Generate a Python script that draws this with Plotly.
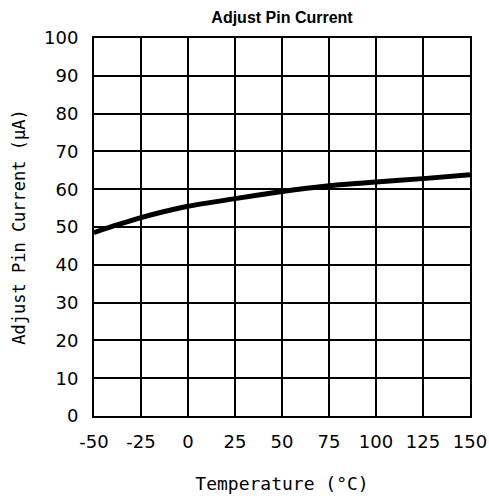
import plotly.graph_objects as go

temperature = [-50, -40, -25, 0, 25, 50, 75, 100, 125, 150]
current = [48.5, 50.2, 52.5, 55.5, 57.5, 59.4, 60.9, 61.9, 62.8, 63.8]
x_ticks = [-50, -25, 0, 25, 50, 75, 100, 125, 150]
y_ticks = [0, 10, 20, 30, 40, 50, 60, 70, 80, 90, 100]

fig = go.Figure()
fig.add_trace(go.Scatter(x=temperature, y=current, mode="lines",
                         line=dict(color="black", width=5, shape="spline", smoothing=0.6),
                         showlegend=False, cliponaxis=False))

fig.update_layout(
    width=489, height=496,
    margin=dict(l=94, r=19, t=38, b=80, autoexpand=False),
    paper_bgcolor="white", plot_bgcolor="white",
    title=dict(text="<b>Adjust Pin Current</b>", x=0.5, xref="paper", y=0.964, yref="container",
               yanchor="middle",
               font=dict(family="Liberation Sans, Arial", size=16, color="black")),
)
fig.update_xaxes(range=[-50, 150], tickvals=x_ticks, ticktext=[str(v) for v in x_ticks],
                 showgrid=True, gridcolor="black", gridwidth=1.5,
                 showline=True, linecolor="black", linewidth=2, mirror=True,
                 ticks="", ticklabelstandoff=8, zeroline=False, automargin=False,
                 ticklabeloverflow="allow",
                 tickfont=dict(family="DejaVu Sans", size=18, color="black"),
                 title=dict(text="Temperature (°C)", standoff=27,
                            font=dict(family="DejaVu Sans Mono", size=18, color="black")))
fig.update_yaxes(range=[0, 100], tickvals=y_ticks,
                 showgrid=True, gridcolor="black", gridwidth=1.5,
                 showline=True, linecolor="black", linewidth=2, mirror=True,
                 ticks="", ticklabelstandoff=10, zeroline=False, automargin=False,
                 tickfont=dict(family="DejaVu Sans", size=18, color="black"),
                 title=dict(text="Adjust Pin Current (μA)", standoff=14,
                            font=dict(family="DejaVu Sans Mono", size=17, color="black")))

fig.write_html("out.html", config={"displayModeBar": False},
               post_script="document.body.style.margin='0';document.body.style.overflow='hidden';")
